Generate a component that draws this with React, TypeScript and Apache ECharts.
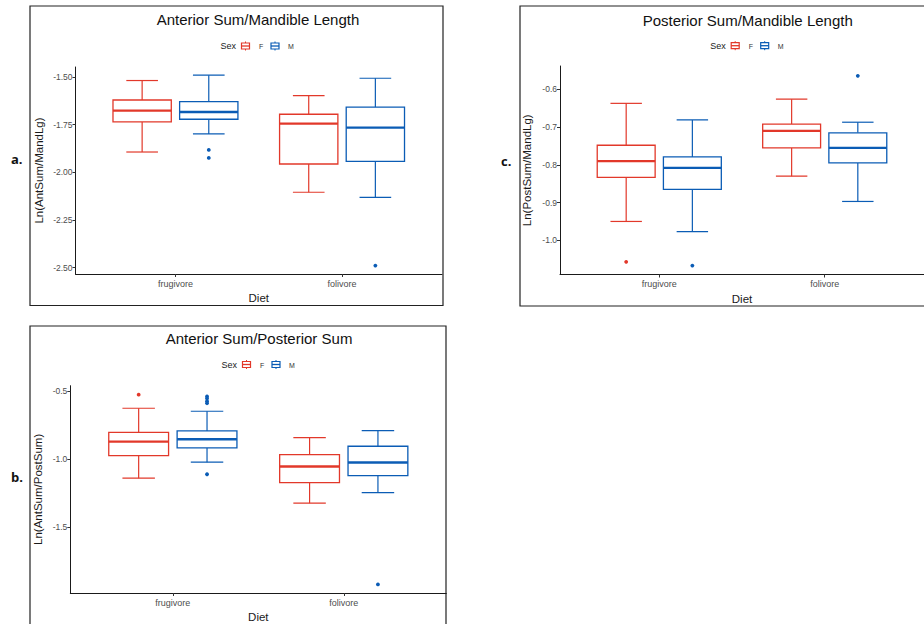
import React, { useEffect, useRef } from "react";
import * as echarts from "echarts";

// ---------- data ----------
const diets = ["frugivore", "folivore"];
const sexes = ["F", "M"];
const sexColors = ["#E2382A", "#0B5CB5"];

// [lower whisker, Q1, median, Q3, upper whisker] per diet
const antMandF = [
  [-1.894, -1.736, -1.677, -1.621, -1.519],
  [-2.105, -1.957, -1.745, -1.696, -1.598],
];
const antMandM = [
  [-1.799, -1.722, -1.684, -1.63, -1.491],
  [-2.132, -1.943, -1.766, -1.659, -1.507],
];
// outliers: [diet index, value]
const antMandOutF: number[][] = [];
const antMandOutM = [
  [0, -1.883],
  [0, -1.925],
  [1, -2.49],
];

const postMandF = [
  [-0.95, -0.833, -0.79, -0.748, -0.637],
  [-0.83, -0.755, -0.71, -0.692, -0.626],
];
const postMandM = [
  [-0.977, -0.865, -0.808, -0.779, -0.681],
  [-0.897, -0.795, -0.755, -0.715, -0.687],
];
const postMandOutF = [[0, -1.057]];
const postMandOutM = [
  [0, -1.067],
  [1, -0.564],
];

const antPostF = [
  [-1.142, -0.976, -0.873, -0.804, -0.627],
  [-1.326, -1.174, -1.056, -0.968, -0.843],
];
const antPostM = [
  [-1.024, -0.919, -0.855, -0.794, -0.649],
  [-1.248, -1.123, -1.027, -0.907, -0.792],
];
const antPostOutF = [[0, -0.527]];
const antPostOutM = [
  [0, -0.54],
  [0, -0.555],
  [0, -0.575],
  [0, -0.59],
  [0, -1.113],
  [1, -1.924],
];

const ticksA = [-2.5, -2.25, -2.0, -1.75, -1.5];
const ticksC = [-1.0, -0.9, -0.8, -0.7, -0.6];
const ticksB = [-1.5, -1.0, -0.5];

// ---------- layout ----------
const FONT = "Liberation Sans, Arial, sans-serif";

const panels = [
  {
    title: "Anterior Sum/Mandible Length",
    yName: "Ln(AntSum/MandLg)",
    label: "a.",
    F: antMandF, M: antMandM, outF: antMandOutF, outM: antMandOutM,
    ticks: ticksA, digits: 2, min: -2.534, max: -1.448,
    grid: { left: 75.5, top: 67, width: 366.5, height: 207 },
    border: { x: 30, y: 6, w: 413, h: 299.5 },
    titleX: 258, titleY: 19, legendY: 46, labelPos: [11, 159], nameGap: 31,
  },
  {
    title: "Posterior Sum/Mandible Length",
    yName: "Ln(PostSum/MandLg)",
    label: "c.",
    F: postMandF, M: postMandM, outF: postMandOutF, outM: postMandOutM,
    ticks: ticksC, digits: 1, min: -1.0906, max: -0.538,
    grid: { left: 560, top: 66, width: 374, height: 208.5 },
    border: { x: 520, y: 6, w: 420, h: 300 },
    titleX: 747.7, titleY: 20, legendY: 45.7, labelPos: [501, 161], nameGap: 27,
  },
  {
    title: "Anterior Sum/Posterior Sum",
    yName: "Ln(AntSum/PostSum)",
    label: "b.",
    F: antPostF, M: antPostM, outF: antPostOutF, outM: antPostOutM,
    ticks: ticksB, digits: 1, min: -1.9875, max: -0.461,
    grid: { left: 70.3, top: 385.7, width: 376, height: 207.6 },
    border: { x: 30, y: 326, w: 416, h: 320 },
    titleX: 259, titleY: 338, legendY: 364.5, labelPos: [11, 477], nameGap: 26,
  },
];

const DODGE = 0.2;
const BOX_W = 0.35;
const CAP_W = 0.19;

function renderBox(color: string) {
  return (params: any, api: any) => {
    const x = api.value(0);
    const lo = api.value(1), q1 = api.value(2), md = api.value(3), q3 = api.value(4), hi = api.value(5);
    const pLo = api.coord([x, lo]);
    const pQ1 = api.coord([x, q1]);
    const pMd = api.coord([x, md]);
    const pQ3 = api.coord([x, q3]);
    const pHi = api.coord([x, hi]);
    const bw = api.size([BOX_W, 0])[0];
    const cw = api.size([CAP_W, 0])[0];
    const cx = pMd[0];
    const lineStyle = { stroke: color, lineWidth: 1.2, fill: null };
    return {
      type: "group",
      children: [
        { type: "line", shape: { x1: cx, y1: pQ3[1], x2: cx, y2: pHi[1] }, style: lineStyle },
        { type: "line", shape: { x1: cx, y1: pQ1[1], x2: cx, y2: pLo[1] }, style: lineStyle },
        { type: "line", shape: { x1: cx - cw / 2, y1: pHi[1], x2: cx + cw / 2, y2: pHi[1] }, style: lineStyle },
        { type: "line", shape: { x1: cx - cw / 2, y1: pLo[1], x2: cx + cw / 2, y2: pLo[1] }, style: lineStyle },
        {
          type: "rect",
          shape: { x: cx - bw / 2, y: pQ3[1], width: bw, height: pQ1[1] - pQ3[1] },
          style: { stroke: color, lineWidth: 1.3, fill: "#fff" },
        },
        { type: "line", shape: { x1: cx - bw / 2, y1: pMd[1], x2: cx + bw / 2, y2: pMd[1] }, style: { stroke: color, lineWidth: 2.4 } },
      ],
    };
  };
}

function legendGlyph(x: number, y: number, color: string) {
  // small boxplot key glyph
  return [
    { type: "line", shape: { x1: x + 4, y1: y - 4.5, x2: x + 4, y2: y + 4.5 }, style: { stroke: color, lineWidth: 1 } },
    { type: "rect", shape: { x: x, y: y - 3, width: 8, height: 6 }, style: { stroke: color, lineWidth: 1.2, fill: "#fff" } },
    { type: "line", shape: { x1: x, y1: y, x2: x + 8, y2: y }, style: { stroke: color, lineWidth: 1.3 } },
  ];
}

function buildOption() {
  const grid: any[] = [];
  const xAxis: any[] = [];
  const yAxis: any[] = [];
  const series: any[] = [];
  const graphic: any[] = [];

  panels.forEach((p, i) => {
    grid.push({ ...p.grid, containLabel: false });
    xAxis.push({
      gridIndex: i,
      type: "value",
      min: 0.4,
      max: 2.6,
      splitLine: { show: false },
      axisLine: { onZero: false, lineStyle: { color: "#1a1a1a", width: 1 } },
      axisTick: { customValues: [1, 2], length: 3, lineStyle: { color: "#333" } },
      axisLabel: {
        customValues: [1, 2],
        formatter: (v: number) => diets[Math.round(v) - 1] ?? "",
        fontSize: 9,
        color: "#4d4d4d",
        margin: 5,
        fontFamily: FONT,
      },
      name: "Diet",
      nameLocation: "middle",
      nameGap: 18,
      nameTextStyle: { fontSize: 11.5, color: "#1a1a1a", fontFamily: FONT },
    });
    yAxis.push({
      gridIndex: i,
      type: "value",
      min: p.min,
      max: p.max,
      splitLine: { show: false },
      axisLine: { show: true, onZero: false, lineStyle: { color: "#1a1a1a", width: 1 } },
      axisTick: { show: true, customValues: p.ticks, length: 3, lineStyle: { color: "#333" } },
      axisLabel: {
        customValues: p.ticks,
        formatter: (v: number) => v.toFixed(p.digits),
        fontSize: 8.5,
        color: "#4d4d4d",
        margin: 3,
        fontFamily: FONT,
      },
      name: p.yName,
      nameLocation: "middle",
      nameGap: p.nameGap,
      nameTextStyle: { fontSize: 11.5, color: "#1a1a1a", fontFamily: FONT },
    });

    const groups = [
      { box: p.F, out: p.outF, dodge: -DODGE, color: sexColors[0], name: sexes[0] },
      { box: p.M, out: p.outM, dodge: DODGE, color: sexColors[1], name: sexes[1] },
    ];
    groups.forEach((g) => {
      series.push({
        type: "custom",
        name: g.name,
        xAxisIndex: i,
        yAxisIndex: i,
        renderItem: renderBox(g.color),
        encode: { x: 0, y: [1, 2, 3, 4, 5] },
        data: g.box.map((b, d) => [d + 1 + g.dodge, ...b]),
        clip: false,
        z: 2,
      });
      series.push({
        type: "scatter",
        name: g.name,
        xAxisIndex: i,
        yAxisIndex: i,
        symbolSize: 3.8,
        itemStyle: { color: g.color, opacity: 1 },
        data: g.out.map((o) => [o[0] + 1 + g.dodge, o[1]]),
        z: 3,
      });
    });

    // panel frame
    graphic.push({
      type: "rect",
      shape: { x: p.border.x, y: p.border.y, width: p.border.w, height: p.border.h },
      style: { stroke: "#222", lineWidth: 1.2, fill: null },
      z: 0,
    });
    // title
    graphic.push({
      type: "text",
      x: p.titleX,
      y: p.titleY,
      style: {
        text: p.title,
        fontSize: 15,
        fill: "#111",
        align: "center",
        verticalAlign: "middle",
        fontFamily: FONT,
      },
    });
    // legend
    const lx = p.titleX - 37.5;
    const ly = p.legendY;
    graphic.push({
      type: "text",
      x: lx,
      y: ly,
      style: { text: "Sex", fontSize: 9, fill: "#1a1a1a", align: "left", verticalAlign: "middle", fontFamily: FONT },
    });
    graphic.push(...legendGlyph(lx + 21, ly, sexColors[0]));
    graphic.push({
      type: "text",
      x: lx + 38.5,
      y: ly + 0.5,
      style: { text: sexes[0], fontSize: 7, fill: "#333", align: "left", verticalAlign: "middle", fontFamily: FONT },
    });
    graphic.push(...legendGlyph(lx + 50.5, ly, sexColors[1]));
    graphic.push({
      type: "text",
      x: lx + 67.5,
      y: ly + 0.5,
      style: { text: sexes[1], fontSize: 7, fill: "#333", align: "left", verticalAlign: "middle", fontFamily: FONT },
    });
    // panel label
    graphic.push({
      type: "text",
      x: p.labelPos[0],
      y: p.labelPos[1],
      style: {
        text: p.label,
        fontSize: 13,
        fontWeight: "bold",
        fill: "#111",
        align: "left",
        verticalAlign: "middle",
        fontFamily: "Open Sans, Liberation Sans, Arial, sans-serif",
      },
    });
  });

  return {
    animation: false,
    backgroundColor: "#fff",
    grid,
    xAxis,
    yAxis,
    series,
    graphic,
  };
}

export default function App() {
  const ref = useRef<HTMLDivElement>(null);
  useEffect(() => {
    if (!ref.current) return;
    const chart = echarts.init(ref.current, undefined, { renderer: "svg" });
    chart.setOption(buildOption() as any);
    return () => chart.dispose();
  }, []);
  return (
    <div
      ref={ref}
      style={{ position: "fixed", left: 0, top: 0, width: 924, height: 624 }}
    />
  );
}
